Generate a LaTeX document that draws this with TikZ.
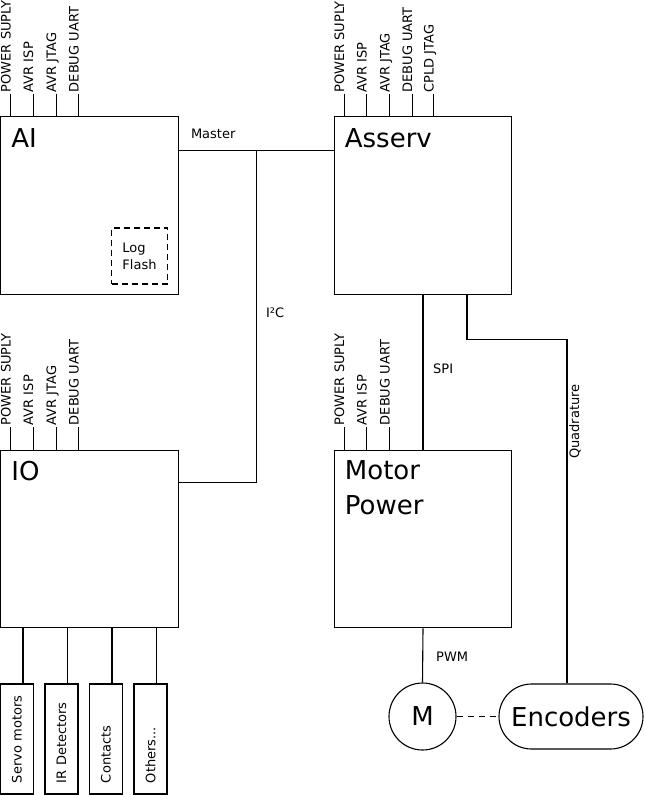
\documentclass[tikz,border=0pt]{standalone}
\usepackage{fontspec}
\setmainfont{DejaVu Sans}
\usepackage{tikz}
\usetikzlibrary{calc}
\tikzset{
  board/.style={rectangle, draw, line width=1.1pt,
    minimum width=177.5pt, minimum height=177.5pt, inner sep=0pt},
  boardname/.style={anchor=north west, align=left, inner sep=0pt,
    font=\fontsize{26}{35}\selectfont},
  pinlabel/.style={rotate=90, anchor=base west, inner sep=1pt,
    font=\fontsize{13}{15}\selectfont},
  wire/.style={line width=1.1pt},
  wirelabel/.style={anchor=base west, inner sep=0pt,
    font=\fontsize{13}{15}\selectfont},
  periph/.style={rectangle, draw, line width=1.1pt, rotate=90,
    minimum height=33pt, text width=88pt, inner xsep=11pt, inner ysep=0pt,
    align=left, font=\fontsize{13}{15}\selectfont},
  flashbox/.style={rectangle, draw, line width=1.1pt, dash pattern=on 6pt off 4pt,
    minimum size=56pt, align=left, font=\fontsize{13}{17}\selectfont},
  roundnode/.style={draw, line width=1.1pt, font=\fontsize{26}{30}\selectfont}
}
\begin{document}
\begin{tikzpicture}[x=1pt, y=-1pt]
  \useasboundingbox (0,0) rectangle (645,795);

  % Boards
  \node[board] (ai) at (89.5,205.5) {};
  \node[board] (asserv) at (423,205.5) {};
  \node[board] (io) at (89.5,539) {};
  \node[board] (motor) at (423,539) {};
  \node[boardname] (ainame) at ($(ai.north west)+(11,12)$) {AI};
  \node[boardname] (asservname) at ($(asserv.north west)+(11,12)$) {Asserv};
  \node[boardname] (ioname) at ($(io.north west)+(11,11)$) {IO};
  \node[boardname] (motorname) at ($(motor.north west)+(11,11)$) {Motor\\Power};

  % Log flash
  \node[flashbox] (logflash) at (139.5,256) {Log\\Flash};

  % Connectors on top of the boards
  \foreach \dx/\txt in {10.5/POWER SUPLY, 33/AVR ISP, 56/AVR JTAG, 78.5/DEBUG UART}
    \draw[wire] ($(ai.north west)+(\dx,0)$) -- ++(0,-22.5) node[pinlabel] {\txt};
  \foreach \dx/\txt in {10.5/POWER SUPLY, 33/AVR ISP, 56/AVR JTAG, 78.5/DEBUG UART, 100/CPLD JTAG}
    \draw[wire] ($(asserv.north west)+(\dx,0)$) -- ++(0,-22) node[pinlabel] {\txt};
  \foreach \dx/\txt in {10.5/POWER SUPLY, 33/AVR ISP, 56/AVR JTAG, 78.5/DEBUG UART}
    \draw[wire] ($(io.north west)+(\dx,0)$) -- ++(0,-23) node[pinlabel] {\txt};
  \foreach \dx/\txt in {10.5/POWER SUPLY, 33/AVR ISP, 56/DEBUG UART}
    \draw[wire] ($(motor.north west)+(\dx,0)$) -- ++(0,-23) node[pinlabel] {\txt};

  % I2C bus
  \draw[wire] ($(ai.north east)+(0,34)$) -- ($(asserv.north west)+(0,34)$);
  \coordinate (bus) at ($(ai.north east)+(78,34)$);
  \draw[wire] (bus) |- ($(io.north east)+(0,33)$);
  \node[wirelabel] (master) at ($(ai.north east)+(12,22)$) {Master};
  \node[wirelabel] (i2c) at ($(bus)+(9,167)$) {I²C};

  % SPI and quadrature
  \draw[wire] (asserv.south) -- (motor.north);
  \node[wirelabel] (spi) at ($(asserv.south)+(10,79)$) {SPI};

  % Motor and encoders
  \node[roundnode, circle, minimum size=67pt, inner sep=0pt] (m) at (422.5,716.5) {M};
  \node[roundnode, rectangle, rounded corners=32.5pt, minimum width=144pt,
    minimum height=65pt, inner sep=0pt] (encoders) at (571,716.5) {Encoders};
  \draw[wire] (motor.south) -- (m.north);
  \node[wirelabel] (pwm) at ($(motor.south)+(13,33)$) {PWM};
  \draw[wire, dash pattern=on 6pt off 5pt] (m.east) -- (encoders.west);
  \draw[wire] ($(asserv.south)+(44,0)$) -- ++(0,45) -| ($(encoders.north)+(-4,0)$);
  \node[rotate=90, anchor=north, inner sep=1pt, font=\fontsize{13}{15}\selectfont]
    (quad) at (568,421.5) {Quadrature};

  % IO peripherals
  \foreach \cx/\txt [count=\n] in {17/{Servo motors}, 61.5/{IR Detectors}, 106/{Contacts}, 150.5/{Others...}} {
    \node[periph] (per\n) at (\cx,739) {\txt};
    \coordinate (pertop\n) at (\cx+6,684);
    \draw[wire] (pertop\n) -- (pertop\n |- io.south);
  }
\end{tikzpicture}
\end{document}
